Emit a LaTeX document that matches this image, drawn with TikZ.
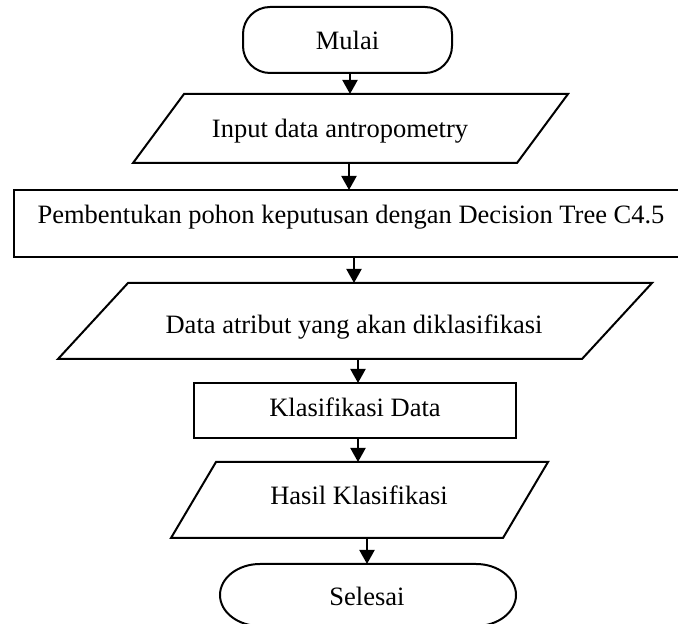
\documentclass[tikz,border=0pt]{standalone}
\usepackage{fontspec}
\setmainfont{Liberation Serif}
\usetikzlibrary{arrows.meta}
\begin{document}
\begin{tikzpicture}[x=1pt,y=1pt,
  outline/.style={draw=black,line width=2pt,line join=miter},
  label/.style={inner sep=0pt,anchor=base,font=\fontsize{26.5}{32}\selectfont},
  flow/.style={draw=black,line width=2pt,-{Triangle[width=15pt,length=14pt]}}]
\useasboundingbox (0,0) rectangle (678,624);

% start terminator
\draw[outline,rounded corners=27pt] (243,551) rectangle (452,617);
\node[label] (mulai) at (347.5,574) {Mulai};
\coordinate (mulai-b) at (350,551);

% input parallelogram
\draw[outline] (184,530) -- (568,530) -- (517,461) -- (133,461) -- cycle;
\node[label] (input) at (340,486) {Input data antropometry};
\coordinate (input-t) at (350,530);
\coordinate (input-b) at (349,461);

% tree building process
\draw[outline] (14,367) rectangle (688,434);
\node[label] (tree) at (351,400) {Pembentukan pohon keputusan dengan Decision Tree C4.5};
\coordinate (tree-t) at (349,434);
\coordinate (tree-b) at (354,367);

% attribute data parallelogram
\draw[outline] (128,341) -- (652,341) -- (582,265) -- (58,265) -- cycle;
\node[label] (attr) at (354,290) {Data atribut yang akan diklasifikasi};
\coordinate (attr-t) at (354,341);
\coordinate (attr-b) at (358,265);

% classification process
\draw[outline] (194,186) rectangle (516,241);
\node[label] (klas) at (355,207) {Klasifikasi Data};
\coordinate (klas-t) at (358,241);
\coordinate (klas-b) at (358,186);

% result parallelogram
\draw[outline] (216,162) -- (548,162) -- (503,86) -- (171,86) -- cycle;
\node[label] (hasil) at (359,119) {Hasil Klasifikasi};
\coordinate (hasil-t) at (358,162);
\coordinate (hasil-b) at (367,86);

% end terminator
\draw[outline] (260,60) -- (476,60)
  arc[start angle=90,end angle=-90,x radius=40pt,y radius=31pt]
  -- (260,-2)
  arc[start angle=-90,end angle=-270,x radius=40pt,y radius=31pt] -- cycle;
\node[label] (selesai) at (367,18) {Selesai};
\coordinate (selesai-t) at (367,60);

% connectors
\draw[flow] (mulai-b) -- (input-t);
\draw[flow] (input-b) -- (tree-t);
\draw[flow] (tree-b) -- (attr-t);
\draw[flow] (attr-b) -- (klas-t);
\draw[flow] (klas-b) -- (hasil-t);
\draw[flow] (hasil-b) -- (selesai-t);
\end{tikzpicture}
\end{document}
